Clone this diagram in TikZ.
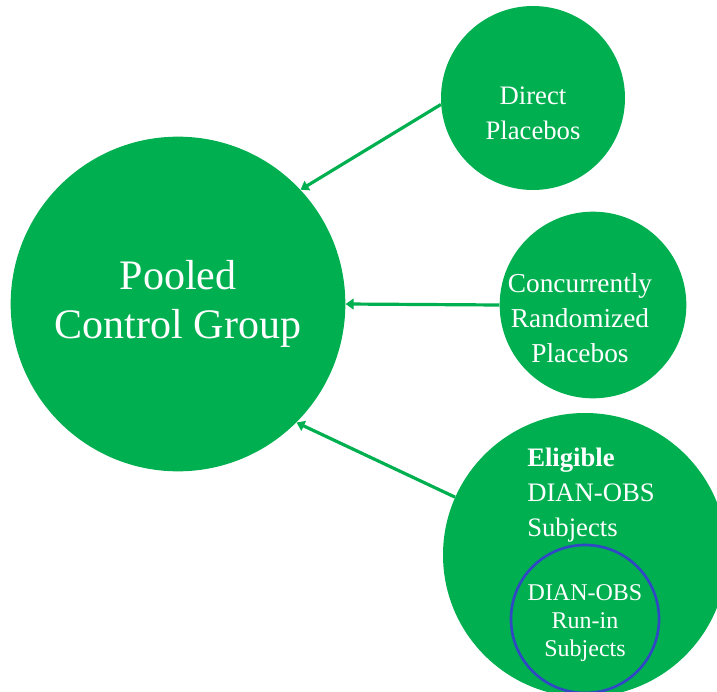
\documentclass[tikz,border=0pt]{standalone}
\usepackage{fontspec}
\setmainfont{Liberation Serif}
\usepackage{tikz}
\usetikzlibrary{arrows.meta}
\definecolor{pgreen}{RGB}{0,176,80}
\definecolor{pblue}{RGB}{48,72,196}
\tikzstyle{group}=[circle, fill=pgreen, draw=none, inner sep=0pt, text=white, align=center]
\tikzstyle{subgroup} = [circle, draw=pblue, line width=2pt, inner sep=0pt]
\tikzstyle{edge} = [draw, line width=2.4pt, pgreen, -{Triangle[length=6pt,width=8pt]}]
\tikzstyle{txt} = [text=white, inner sep=0pt]

\begin{document}
\begin{tikzpicture}[x=0.75pt, y=-0.75pt]
	\useasboundingbox (0,0) rectangle (717,692);

	\node[group, minimum size=251pt, font=\fontsize{31.5}{37}\selectfont] (pool) at (178,304) {Pooled\\Control Group};
	\node[group, minimum size=138pt] (v_1) at (533,98) {};
	\node[group, minimum size=140pt] (v_2) at (593,305) {};
	\node[group, minimum size=213pt] (v_3) at (585,555) {};

	\node[txt, align=center, font=\fontsize{20}{26}\selectfont] (t_1) at (533,113) {Direct\\Placebos};
	\node[txt, align=center, font=\fontsize{20.5}{26}\selectfont] (t_2) at (580,318) {Concurrently\\Randomized\\Placebos};
	\node[txt, anchor=west, align=left, font=\fontsize{20}{26}\selectfont] (t_3) at (527,495) {\textbf{Eligible}\\DIAN-OBS\\Subjects};

	% run-in subjects inside the eligible ones
	\node[subgroup, minimum size=111pt] (u_1) at (585,619) {};
	\node[txt, align=center, font=\fontsize{18}{21}\selectfont] (t_4) at (585,623) {DIAN-OBS\\Run-in\\Subjects};

	\draw[edge] (v_1.184) -- (pool.43.6);
	\draw[edge] (v_2.180) -- (pool.0);
	\draw[edge] (v_3.156) -- (pool.-45);
\end{tikzpicture}
\end{document}
